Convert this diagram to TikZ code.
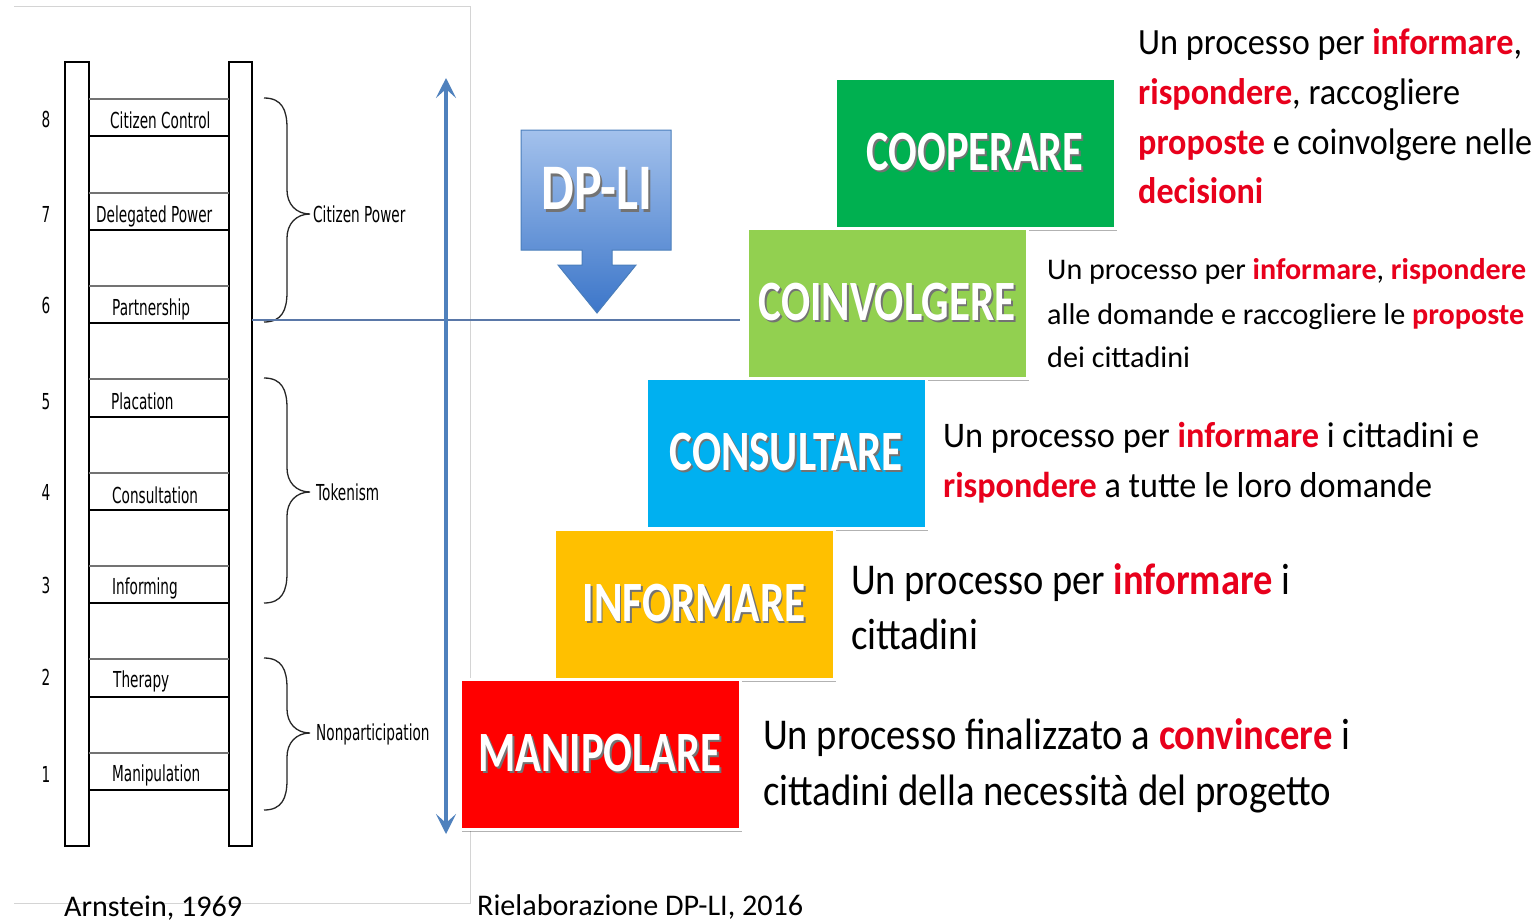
\documentclass[tikz,border=0pt]{standalone}
\usepackage{fontspec}
\setmainfont{Carlito}
\newfontfamily\dejavu{DejaVu Sans}
\usepackage{graphicx}
\usetikzlibrary{arrows.meta,shadows}

\definecolor{cCoop}{HTML}{00B050}
\definecolor{cCoin}{HTML}{92D050}
\definecolor{cCons}{HTML}{00B0F0}
\definecolor{cInfo}{HTML}{FFC000}
\definecolor{cMani}{HTML}{FF0000}
\definecolor{rword}{HTML}{E8001C}
\definecolor{axisblue}{HTML}{4F81BD}
\definecolor{hline}{HTML}{5A78A8}
\definecolor{dpTop}{HTML}{A3C1EC}
\definecolor{dpBot}{HTML}{3C76C9}
\definecolor{dpBorder}{HTML}{4A7EBB}
\definecolor{frameg}{HTML}{D4D4D4}

\newcommand{\rw}[1]{{\bfseries\textcolor{rword}{#1}}}
\newcommand{\bw}[1]{\rlap{\hspace{2.5pt}\raisebox{-2.5pt}{\color{black!55}#1}}\textcolor{white}{#1}}
\newcommand{\fitw}[2]{\resizebox{#1pt}{\height}{#2}}
\newcommand{\ld}[1]{{\dejavu\fontsize{22}{26}\selectfont\scalebox{0.62}[1]{#1}}}
\newcommand{\curlybrace}[3]{%
  \draw[bracepen] (264,#1) .. controls (282,#1) and (287,#1+12) .. (287,#1+30)
    -- (287,#2-24) .. controls (287,#2-10) and (296,#2) .. (310,#2)
    .. controls (296,#2) and (287,#2+10) .. (287,#2+24)
    -- (287,#3-30) .. controls (287,#3-12) and (282,#3) .. (264,#3);}

\tikzset{
  stepbox/.style={minimum width=280pt, minimum height=150pt, draw=white, line width=3pt,
    inner sep=0pt, drop shadow={shadow xshift=2pt, shadow yshift=-3pt, opacity=0.3, fill=black},
    font=\fontsize{57}{60}\selectfont\bfseries},
  desc/.style={anchor=base west, inner sep=0pt},
  lad/.style={anchor=base west, inner sep=0pt},
  num/.style={anchor=base, inner sep=0pt},
  rail/.style={draw=black, line width=2pt, fill=white},
  rungtop/.style={draw=black!55, line width=1.5pt},
  rungbot/.style={draw=black, line width=2.5pt},
  bracepen/.style={draw=black!85, line width=1.3pt},
  axis/.style={draw=axisblue, line width=3.5pt, {Stealth[length=20pt,width=20pt,inset=9pt]}-{Stealth[length=20pt,width=20pt,inset=9pt]}},
}

\begin{document}
\begin{tikzpicture}[x=1pt,y=-1pt]
\useasboundingbox (0,0) rectangle (1537,922);
\fill[white] (0,0) rectangle (1537,922);

% frame of the left panel
\draw[frameg, line width=1pt] (14,6) -- (470,6) -- (470,903) -- (14,903);

% ladder
\draw[rail] (65,62) rectangle (89,846);
\draw[rail] (229,62) rectangle (252,846);
\foreach \t/\b in {99/136,193/230,286/323,379/417,473/510,566/603,659/697,753/790}{
  \draw[rungtop] (89,\t) -- (229,\t);
  \draw[rungbot] (89,\b) -- (229,\b);
}
\node[num] (n8) at (46,127) {\ld{8}};
\node[num] (n7) at (46,222) {\ld{7}};
\node[num] (n6) at (46,313) {\ld{6}};
\node[num] (n5) at (46,409) {\ld{5}};
\node[num] (n4) at (46,500) {\ld{4}};
\node[num] (n3) at (46,593) {\ld{3}};
\node[num] (n2) at (46,685) {\ld{2}};
\node[num] (n1) at (46,782) {\ld{1}};

\node[lad] (l8) at (110,128) {\ld{Citizen Control}};
\node[lad] (l7) at (96,222) {\ld{Delegated Power}};
\node[lad] (l6) at (112,315) {\ld{Partnership}};
\node[lad] (l5) at (111,409) {\ld{Placation}};
\node[lad] (l4) at (112,503) {\ld{Consultation}};
\node[lad] (l3) at (112,594) {\ld{Informing}};
\node[lad] (l2) at (113,687) {\ld{Therapy}};
\node[lad] (l1) at (112,781) {\ld{Manipulation}};

% braces
\curlybrace{98}{214}{322}
\curlybrace{378}{492}{603}
\curlybrace{658}{733}{810}
\node[lad] (g3) at (313,222) {\ld{Citizen Power}};
\node[lad] (g2) at (316,500) {\ld{Tokenism}};
\node[lad] (g1) at (316,740) {\ld{Nonparticipation}};

% axes
\coordinate (hl0) at (252,320);
\coordinate (hl1) at (740,320);
\draw[hline, line width=2pt] (hl0) -- (hl1);
\coordinate (vtop) at (446,78);
\coordinate (vbot) at (446,834);
\draw[axis] (vtop) -- (vbot);

% DP-LI arrow
\shade[top color=dpTop, bottom color=dpBot, draw=dpBorder, line width=1pt]
  (521,130) -- (671,130) -- (671,250) -- (612,250) -- (612,265) -- (636,265)
  -- (597,313) -- (558,265) -- (582,265) -- (582,250) -- (521,250) -- cycle;
\node[font=\fontsize{65}{70}\selectfont\bfseries, inner sep=0pt] (dpli) at (597,190) {\fitw{111}{\bw{DP-LI}}};

% steps
\node[stepbox, fill=cCoop] (coop) at (975,153) {\fitw{217}{\bw{COOPERARE}}};
\node[stepbox, fill=cCoin] (coin) at (887,303) {\fitw{257}{\bw{COINVOLGERE}}};
\node[stepbox, fill=cCons] (cons) at (786,453) {\fitw{233}{\bw{CONSULTARE}}};
\node[stepbox, fill=cInfo] (info) at (694,604) {\fitw{223}{\bw{INFORMARE}}};
\node[stepbox, fill=cMani] (mani) at (600,754) {\fitw{243}{\bw{MANIPOLARE}}};

% descriptions
\begin{scope}[every node/.append style={font=\fontsize{37}{44}\selectfont}]
\node[desc] (d1a) at (1138,54) {\fitw{384}{Un processo per \rw{informare},}};
\node[desc] (d1b) at (1138,104) {\fitw{322}{\rw{rispondere}, raccogliere}};
\node[desc] (d1c) at (1138,154) {\fitw{394}{\rw{proposte} e coinvolgere nelle}};
\node[desc] (d1d) at (1138,203) {\fitw{125}{\rw{decisioni}}};
\end{scope}
\begin{scope}[every node/.append style={font=\fontsize{30}{36}\selectfont}]
\node[desc] (d2a) at (1047,279) {\fitw{479}{Un processo per \rw{informare}, \rw{rispondere}}};
\node[desc] (d2b) at (1047,324) {\fitw{477}{alle domande e raccogliere le \rw{proposte}}};
\node[desc] (d2c) at (1047,367) {\fitw{143}{dei cittadini}};
\end{scope}
\begin{scope}[every node/.append style={font=\fontsize{36}{42}\selectfont}]
\node[desc] (d3a) at (943,447) {\fitw{536}{Un processo per \rw{informare} i cittadini e}};
\node[desc] (d3b) at (943,497) {\fitw{489}{\rw{rispondere} a tutte le loro domande}};
\end{scope}
\begin{scope}[every node/.append style={font=\fontsize{44}{52}\selectfont}]
\node[desc] (d4a) at (851,594) {\fitw{439}{Un processo per \rw{informare} i}};
\node[desc] (d4b) at (851,649) {\fitw{127}{cittadini}};
\node[desc] (d5a) at (763,749) {\fitw{587}{Un processo finalizzato a \rw{convincere} i}};
\node[desc] (d5b) at (763,805) {\fitw{568}{cittadini della necessità del progetto}};
\end{scope}

% captions
\node[desc, font=\fontsize{30}{36}\selectfont] (arn) at (64,916) {\fitw{178}{Arnstein, 1969}};
\node[desc, font=\fontsize{30}{36}\selectfont] (riel) at (477,915) {\fitw{326}{Rielaborazione DP-LI, 2016}};
\end{tikzpicture}
\end{document}
